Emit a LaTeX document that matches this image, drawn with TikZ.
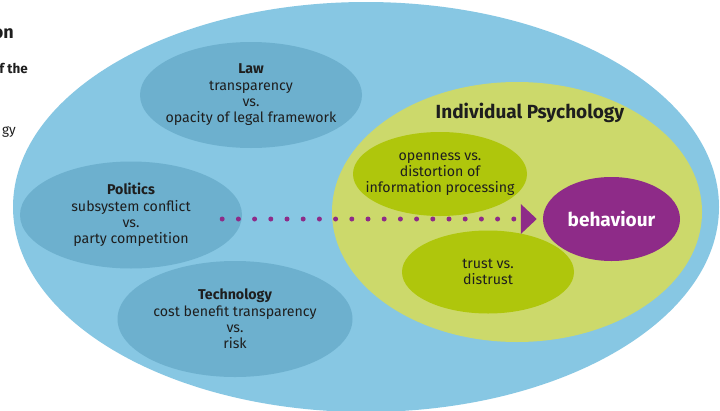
\documentclass[tikz,border=0pt]{standalone}
\usepackage{fontspec}
\setmainfont{Fira Sans}
\usetikzlibrary{shapes.geometric,arrows.meta}
\definecolor{outerblue}{HTML}{87C7E3}
\definecolor{innerblue}{HTML}{6DB0CE}
\definecolor{psychgreen}{HTML}{CCD96B}
\definecolor{leafgreen}{HTML}{AFC60C}
\definecolor{plum}{HTML}{8E2B88}
\definecolor{txt}{HTML}{1E1E1E}
\begin{document}
\begin{tikzpicture}[x=1pt,y=-1pt,
  blob/.style={ellipse, inner xsep=-30pt, inner ysep=-8pt, align=center, text=txt,
    font=\fontsize{14.2}{16.3}\selectfont},
  bluebox/.style={blob, fill=innerblue},
  greenbox/.style={blob, fill=leafgreen},
  cuttext/.style={anchor=base east, inner sep=0pt, text=txt},
  bigtext/.style={font=\bfseries\fontsize{19}{22}\selectfont},
  flow/.style={plum, line width=5pt, line cap=round,
    dash pattern=on 0pt off 16.2pt,
    -{Triangle[length=16pt,width=29pt]}}
]
\useasboundingbox (0,0) rectangle (720,410);
\clip (0,0) rectangle (720,410);
\fill[white] (0,0) rectangle (720,410);

% cut-off text at the left margin
\node[cuttext, font=\bfseries\fontsize{18}{20}\selectfont] (t1) at (14,38) {on};
\node[cuttext, font=\bfseries\fontsize{13.5}{15}\selectfont] (t2) at (28,73) {f the};
\node[cuttext, font=\fontsize{13.5}{15}\selectfont] (t3) at (16,134) {gy};

% outer ellipse
\fill[outerblue] (366,207) ellipse [x radius=353pt, y radius=205pt];

% outer factors
\node[bluebox, minimum width=222pt, minimum height=106pt] (law) at (251,95)
  {\textbf{Law}\\transparency\\vs.\\opacity of legal framework};
\node[bluebox, minimum width=222pt, minimum height=107pt] (politics) at (131,215)
  {\textbf{Politics}\\subsystem conflict\\vs.\\party competition};
\node[bluebox, minimum width=235pt, minimum height=116pt] (technology) at (235,319)
  {\textbf{Technology}\\cost benefit transparency\\vs.\\risk};

% individual psychology
\node[ellipse, inner sep=0pt, fill=psychgreen, minimum width=370pt, minimum height=260pt] (psych) at (517,212) {};
\node[text=txt, bigtext] (psychtitle) at (530,113) {Individual Psychology};
\node[greenbox, minimum width=174pt, minimum height=84pt] (openness) at (440,174)
  {openness vs.\\distortion of\\information processing};
\node[greenbox, minimum width=172pt, minimum height=83pt] (trust) at (488,272)
  {trust vs.\\distrust};
\node[ellipse, inner sep=0pt, fill=plum, text=white, minimum width=137pt, minimum height=84pt,
  bigtext] (behaviour) at (611.5,219) {behaviour};

% dotted arrow
\draw[flow] ([xshift=-20pt,yshift=-4pt]politics.east) -- ([xshift=-6pt]behaviour.west);
\end{tikzpicture}
\end{document}
